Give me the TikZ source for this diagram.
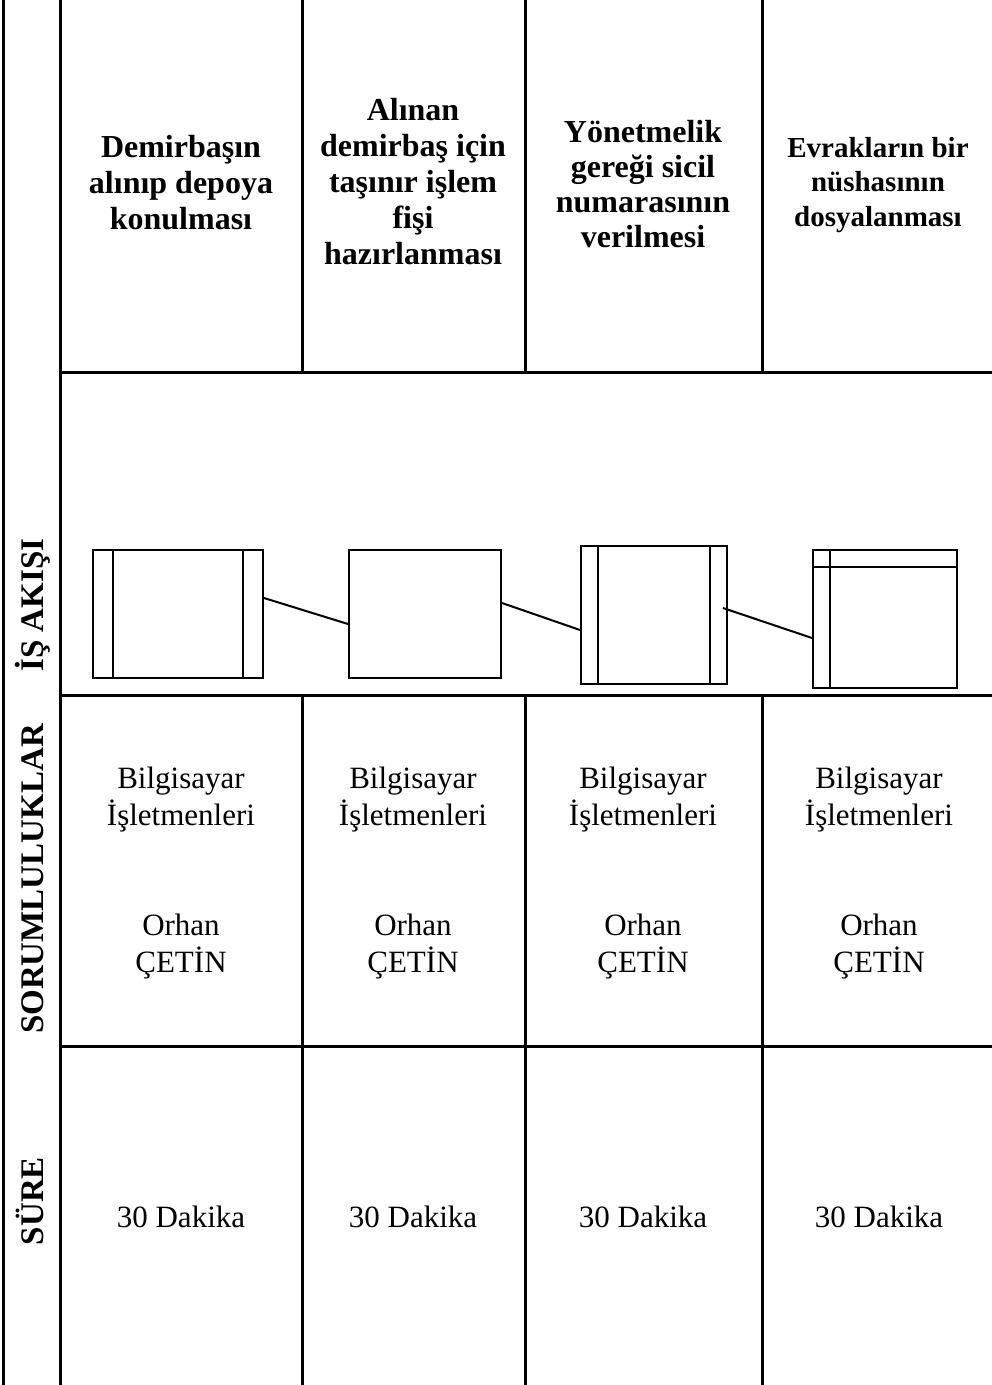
\documentclass[tikz,border=0pt]{standalone}
\usepackage{fontspec}
\setmainfont{Liberation Serif}
\usepackage{tikz}
\usetikzlibrary{positioning}

\begin{document}
\begin{tikzpicture}[x=1pt,y=-1pt,
    head/.style={align=center,inner sep=0pt,font=\bfseries\fontsize{32}{36}\selectfont},
    side/.style={rotate=90,inner sep=0pt,text height=22pt,text depth=0pt,font=\bfseries\fontsize{33}{36}\selectfont},
    body/.style={align=center,inner sep=0pt,font=\fontsize{31}{37}\selectfont},
    box/.style={rectangle,draw,line width=2pt,inner sep=0pt},
    grid/.style={line width=3pt}]

		  \useasboundingbox (0,0) rectangle (992,1385);

		  % Tablo
		  \draw[grid] (3,0) -- (3,1385) (60,0) -- (60,1385);
		  \draw[grid] (60,372) -- (992,372) (60,695) -- (992,695) (60,1046) -- (992,1046);
		  \draw[grid] (302,0) -- (302,372) (302,695) -- (302,1385);
		  \draw[grid] (525,0) -- (525,372) (525,695) -- (525,1385);
		  \draw[grid] (762,0) -- (762,372) (762,695) -- (762,1385);

		  % Sol sutun
		  \node[side] (IA) at (32,605)  {İŞ AKIŞI};
		  \node[side] (SR) at (32,879)  {SORUMLULUKLAR};
		  \node[side] (SU) at (32,1201) {SÜRE};

		  % 1. Satir
		  \node[head] (H1) at (181,183) {Demirbaşın\\alınıp depoya\\konulması};
		  \node[head] (H2) at (413,182) {Alınan\\demirbaş için\\taşınır işlem\\fişi\\hazırlanması};
		  \node[head,font=\bfseries\fontsize{32}{34.7}\selectfont] (H3) at (643,184)
		   {Yönetmelik\\gereği sicil\\numarasının\\verilmesi};
		  \node[head,font=\bfseries\fontsize{29}{34.5}\selectfont] (H4) at (878,185)
		   {Evrakların bir\\nüshasının\\dosyalanması};

		  % 2. Satir
		  \node[box,minimum width=170pt,minimum height=128pt] (DP) at (178,614) {};
		  \node[box,minimum width=152pt,minimum height=128pt] (TIF) [right=247pt of DP.center,anchor=center] {};
		  \node[box,minimum width=146pt,minimum height=138pt] (SN)  [below right=1pt and 229pt of TIF.center,anchor=center] {};
		  \node[box,minimum width=144pt,minimum height=138pt] (ED)  [below right=4pt and 231pt of SN.center,anchor=center] {};

		  \draw[line width=2pt]
			([xshift=21pt]DP.north west) -- ([xshift=21pt]DP.south west)
			([xshift=-21pt]DP.north east) -- ([xshift=-21pt]DP.south east)
			([xshift=18pt]SN.north west) -- ([xshift=18pt]SN.south west)
			([xshift=-18pt]SN.north east) -- ([xshift=-18pt]SN.south east)
			([yshift=-18pt]ED.north west) -- ([yshift=-18pt]ED.north east)
			([xshift=18pt]ED.north west) -- ([xshift=18pt]ED.south west);

		  \path[line width=2pt]
			([yshift=16pt]DP.east)  edge ([yshift=-10pt]TIF.west)
			([yshift=11pt]TIF.east) edge ([yshift=-15pt]SN.west)
			([xshift=-5pt,yshift=7pt]SN.east) edge ([yshift=-19pt]ED.west);

		  % 3. Satir
		  \node[body] (B1) at (181,800) {Bilgisayar\\İşletmenleri};
		  \node[body] (B2) at (413,800) {Bilgisayar\\İşletmenleri};
		  \node[body] (B3) at (643,800) {Bilgisayar\\İşletmenleri};
		  \node[body] (B4) at (879,800) {Bilgisayar\\İşletmenleri};
		  \node[body] (O1) at (181,947) {Orhan\\ÇETİN};
		  \node[body] (O2) at (413,947) {Orhan\\ÇETİN};
		  \node[body] (O3) at (643,947) {Orhan\\ÇETİN};
		  \node[body] (O4) at (879,947) {Orhan\\ÇETİN};

		  % 4. Satir
		  \node[body] (T1) at (181,1217) {30 Dakika};
		  \node[body] (T2) at (413,1217) {30 Dakika};
		  \node[body] (T3) at (643,1217) {30 Dakika};
		  \node[body] (T4) at (879,1217) {30 Dakika};

		\end{tikzpicture}
\end{document}
